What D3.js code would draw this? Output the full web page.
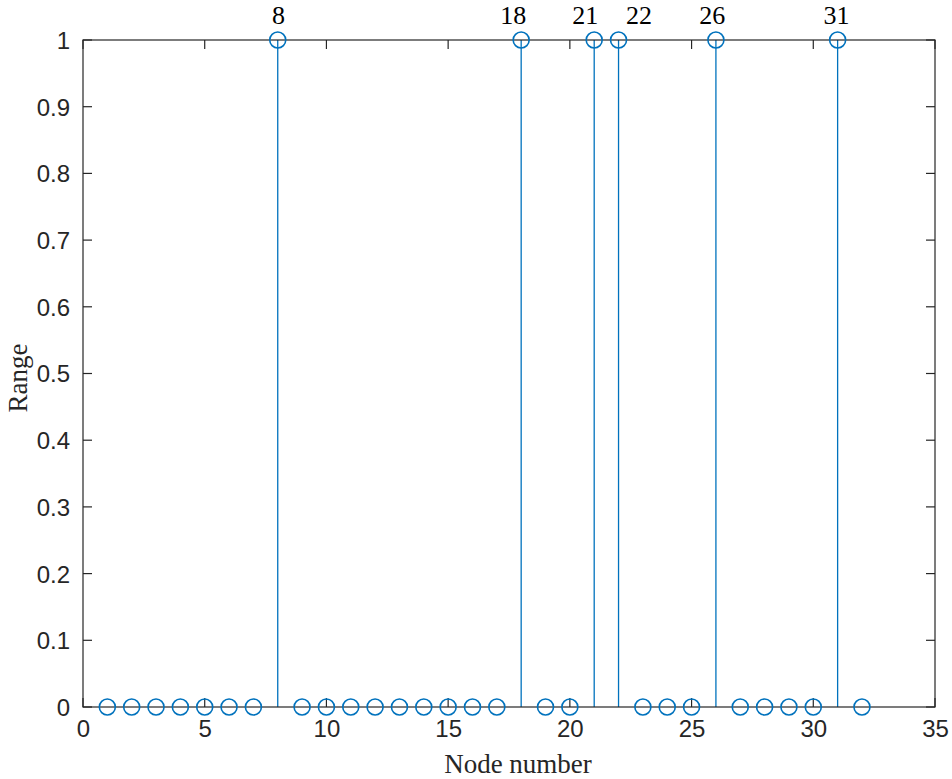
<!DOCTYPE html>
<html><head><meta charset="utf-8">
<script src="https://cdn.jsdelivr.net/npm/d3@7"></script>
<style>body{margin:0;background:#fff}svg{display:block}</style>
</head><body>
<script>
const nodes = d3.range(1, 33);
const values = [0,0,0,0,0,0,0,1,0,0,0,0,0,0,0,0,0,1,0,0,1,1,0,0,0,1,0,0,0,0,1,0];
const labelText = ["8","18","21","22","26","31"];
const labelX = [8.03, 17.67, 20.63, 22.84, 25.85, 30.95];
const xTicks = [0,5,10,15,20,25,30,35];
const yTicks = [0,0.1,0.2,0.3,0.4,0.5,0.6,0.7,0.8,0.9,1];

const W = 952, H = 779;
const m = {l:83, r:17, t:40, b:72};
const svg = d3.select("body").append("svg").attr("width", W).attr("height", H);
const x = d3.scaleLinear().domain([0,35]).range([m.l, W - m.r]);
const y = d3.scaleLinear().domain([0,1]).range([H - m.b, m.t]);
const axCol = "#262626", blue = "#0072BD";
const tickFont = "'Liberation Sans', Arial, sans-serif";
const serif = "'Liberation Serif', 'Times New Roman', serif";

// stems
svg.append("g").selectAll("line").data(nodes).join("line")
  .attr("x1", d => x(d)).attr("x2", d => x(d))
  .attr("y1", y(0)).attr("y2", (d,i) => y(values[i]))
  .attr("stroke", blue).attr("stroke-width", 1.3);

// axes
const bottom = d3.axisBottom(x).tickValues(xTicks).tickSize(0).tickPadding(13).tickFormat(d3.format("d"));
const left = d3.axisLeft(y).tickValues(yTicks).tickSize(0).tickPadding(13).tickFormat(d => d === 0 || d === 1 ? d3.format("d")(d) : d3.format(".1f")(d));
const gb = svg.append("g").attr("transform", `translate(0,${y(0)})`).call(bottom);
const gl = svg.append("g").attr("transform", `translate(${x(0)},0)`).call(left);
[gb, gl].forEach(g => {
  g.select(".domain").remove();
  g.selectAll("text").attr("font-family", tickFont).attr("font-size", 24).attr("fill", axCol);
});
gl.selectAll("text").attr("dy", "0.35em");

// inward ticks on all four sides
const tk = 9;
const tg = svg.append("g").attr("stroke", axCol).attr("stroke-width", 1.2);
xTicks.forEach(t => {
  tg.append("line").attr("x1", x(t)).attr("x2", x(t)).attr("y1", y(0)).attr("y2", y(0) - tk);
  tg.append("line").attr("x1", x(t)).attr("x2", x(t)).attr("y1", y(1)).attr("y2", y(1) + tk);
});
yTicks.forEach(t => {
  tg.append("line").attr("x1", x(0)).attr("x2", x(0) + tk).attr("y1", y(t)).attr("y2", y(t));
  tg.append("line").attr("x1", x(35)).attr("x2", x(35) - tk).attr("y1", y(t)).attr("y2", y(t));
});
svg.append("rect").attr("x", x(0)).attr("y", y(1)).attr("width", x(35) - x(0)).attr("height", y(0) - y(1))
  .attr("fill", "none").attr("stroke", axCol).attr("stroke-width", 1.2);

// markers
svg.append("g").selectAll("circle").data(nodes).join("circle")
  .attr("cx", d => x(d)).attr("cy", (d,i) => y(values[i])).attr("r", 8)
  .attr("fill", "none").attr("stroke", blue).attr("stroke-width", 1.6);

// node labels
svg.append("g").selectAll("text").data(labelText).join("text")
  .attr("x", (d,i) => x(labelX[i])).attr("y", y(1) - 16)
  .attr("text-anchor", "middle").attr("font-family", serif).attr("font-size", 26).attr("fill", "#000")
  .text(d => d);

// axis titles
svg.append("text").attr("x", 518).attr("y", 773).attr("text-anchor", "middle")
  .attr("font-family", serif).attr("font-size", 27).attr("fill", axCol).text("Node number");
svg.append("text").attr("transform", "translate(27,378) rotate(-90)").attr("text-anchor", "middle")
  .attr("font-family", serif).attr("font-size", 27).attr("fill", axCol).text("Range");
</script>
</body></html>
